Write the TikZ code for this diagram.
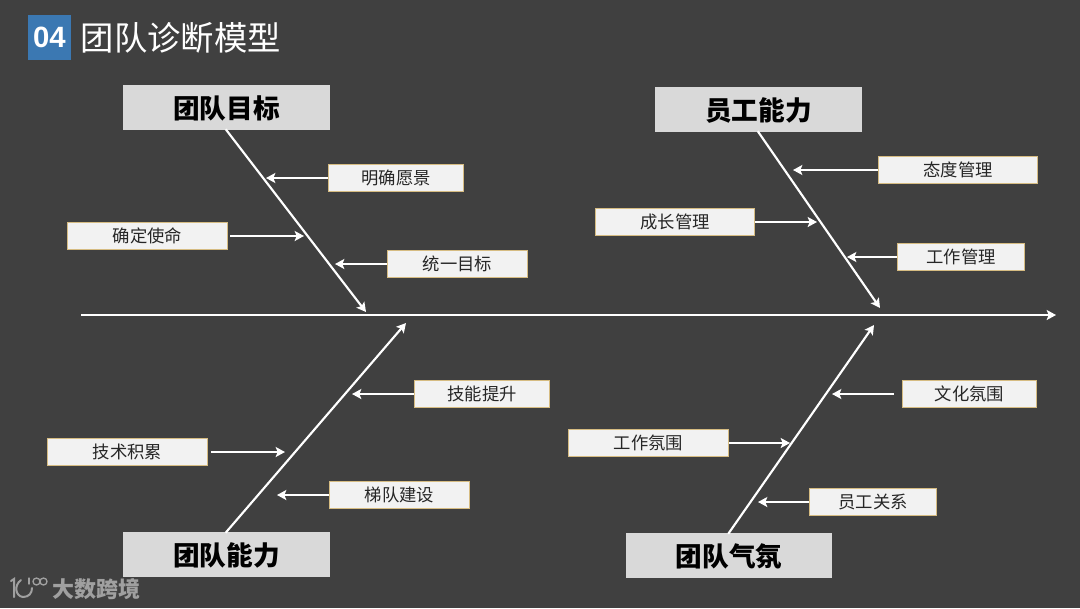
\documentclass[tikz,border=0pt]{standalone}
\usepackage{fontspec}
\setmainfont{Noto Sans CJK SC}
\setsansfont{Liberation Sans}
\usetikzlibrary{arrows.meta,positioning}
\definecolor{bgc}{HTML}{404040}
\definecolor{acc}{HTML}{3B78B2}
\definecolor{gld}{HTML}{D6BC82}
\definecolor{lt}{HTML}{F2F2F2}
\definecolor{hd}{HTML}{D9D9D9}
\definecolor{wm}{HTML}{A0A0A0}
\tikzset{
  head/.style={fill=hd,minimum width=155pt,minimum height=33.75pt,inner sep=0pt,text height=16.5pt,text depth=0.5pt,text=black,font=\fontsize{20}{24}\selectfont\bfseries},
  sbox/.style={draw=gld,line width=0.9pt,fill=lt,minimum height=20.5pt,inner sep=0pt,text height=10.5pt,text depth=0.5pt,text=black!85,font=\fontsize{13}{16}\selectfont},
  ar/.style={-{Stealth[length=7pt,width=7.5pt,inset=1.5pt]},line width=1.5pt,draw=white},
  lar/.style={ar,line width=1.6pt,shorten <=-1pt},
  logo/.style={draw=wm,line width=1.5pt,line cap=round},
}

\begin{document}
\begin{tikzpicture}[x=0.75pt,y=-0.75pt]
\fill[bgc] (0,0) rectangle (1080,608);
\useasboundingbox (0,0) rectangle (1080,608);
% title
\node[fill=acc,minimum width=32.25pt,minimum height=33.75pt,inner sep=0pt,text=white,font=\sffamily\bfseries\fontsize{22}{24}\selectfont] (num) at (49.5,37.5) {04};
\node[right=7pt of num,inner sep=0pt,text=white,font=\fontsize{25}{29}\selectfont] (title) {团队诊断模型};
% heads
\node[head] (goal) at (226.5,107.5) {团队目标};
\node[head] (skill) at (758.5,109.5) {员工能力};
\node[head] (team) at (226.5,554.5) {团队能力};
\node[head] (mood) at (729,555.5) {团队气氛};
% spine
\coordinate (s0) at (81,315);
\coordinate (s1) at (1056,315);
\draw[ar] (s0) -- (s1);
\coordinate (g) at (366,312);
\coordinate (k) at (880,308);
\coordinate (t) at (406,323);
\coordinate (m) at (874,325);
\draw[lar] (goal.south) -- (g);
\draw[lar] (skill.south) -- (k);
\draw[lar] (team.north) -- (t);
\draw[lar] (mood.north) -- (m);
% goal side
\node[sbox,minimum width=101pt] (g1) at (396,178) {明确愿景};
\node[sbox,minimum width=119.5pt] (g2) at (147.5,236) {确定使命};
\node[sbox,minimum width=104.5pt] (g3) at (457.5,264) {统一目标};
\coordinate (g1e) at (266,178);
\coordinate (g2e) at (304,236);
\coordinate (g3e) at (335,264);
\coordinate (g2s) at (230,236);
\draw[ar] (g1.west) -- (g1e);
\draw[ar] (g2s) -- (g2e);
\draw[ar] (g3.west) -- (g3e);
% skill side
\node[sbox,minimum width=119pt] (k1) at (958,170) {态度管理};
\node[sbox,minimum width=119pt] (k2) at (675,222) {成长管理};
\node[sbox,minimum width=95pt] (k3) at (961,257) {工作管理};
\coordinate (k1e) at (793,170);
\coordinate (k2e) at (817,222);
\coordinate (k3e) at (847,257);
\draw[ar] (k1.west) -- (k1e);
\draw[ar] (k2.east) -- (k2e);
\draw[ar] (k3.west) -- (k3e);
% team side
\node[sbox,minimum width=101pt] (t1) at (482,394) {技能提升};
\node[sbox,minimum width=119.5pt] (t2) at (127.5,452) {技术积累};
\node[sbox,minimum width=104.5pt] (t3) at (399.5,495) {梯队建设};
\coordinate (t1e) at (352,394);
\coordinate (t2e) at (285,452);
\coordinate (t3e) at (277,495);
\coordinate (t2s) at (211,452);
\draw[ar] (t1.west) -- (t1e);
\draw[ar] (t2s) -- (t2e);
\draw[ar] (t3.west) -- (t3e);
% mood side
\node[sbox,minimum width=101pt] (m1) at (969.5,394) {文化氛围};
\node[sbox,minimum width=119.5pt] (m2) at (648.5,443) {工作氛围};
\node[sbox,minimum width=95pt] (m3) at (873,502) {员工关系};
\coordinate (m1e) at (832,394);
\coordinate (m1s) at (894,394);
\coordinate (m2e) at (790,443);
\coordinate (m3e) at (758,502);
\draw[ar] (m1s) -- (m1e);
\draw[ar] (m2.east) -- (m2e);
\draw[ar] (m3.west) -- (m3e);
% watermark
\node[inner sep=0pt,text=wm,font=\fontsize{16.5}{18}\selectfont\bfseries] (wmark) at (96,589) {大数跨境};
\draw[logo] (11,581) -- (14,579) -- (14,597);
\draw[logo] (21,580) .. controls (14,585) and (15,596) .. (23,597) .. controls (29,597) and (32,593) .. (32,588);
\draw[logo,line width=1pt] (29,578) -- (29,584);
\draw[logo,line width=1pt] (36.5,581.5) circle (3.5);
\draw[logo,line width=1pt] (43.5,581.5) circle (3.5);
\end{tikzpicture}
\end{document}
